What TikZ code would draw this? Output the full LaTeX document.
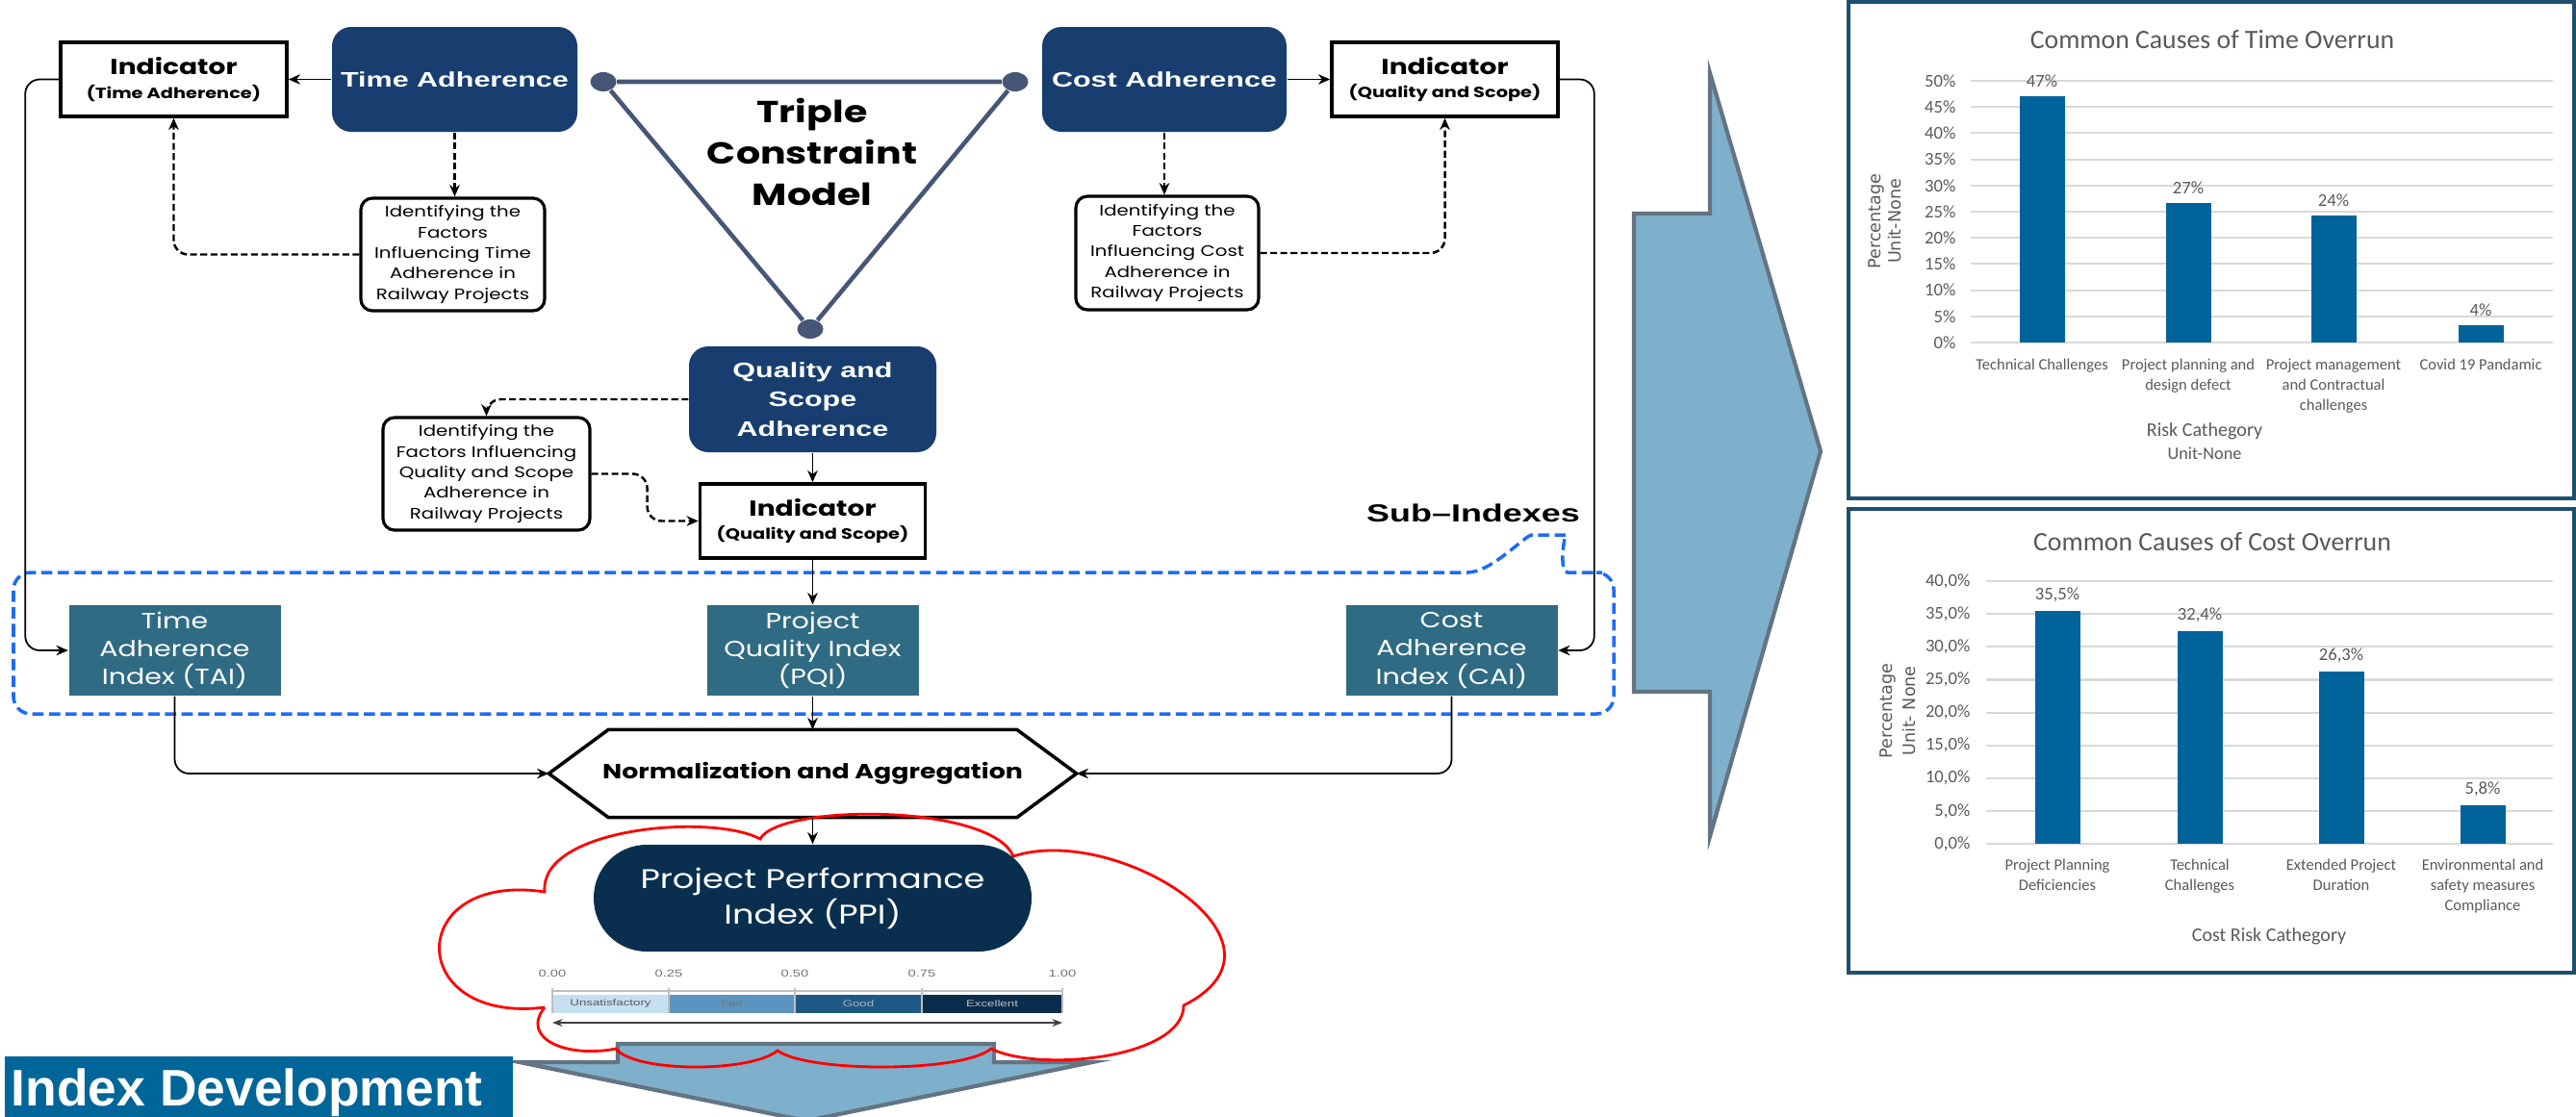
\documentclass[tikz,border=0pt]{standalone}
\usepackage{fontspec}
\setmainfont{Poppins}[FakeStretch=1.25]
\newfontfamily\arfont{Liberation Sans}[FakeStretch=1.4]
\newfontfamily\plainarial{Liberation Sans}
\newfontfamily\chartfont{Carlito}
\newfontfamily\axisfont{DejaVu Sans}
\usetikzlibrary{arrows.meta,shapes.geometric}
\newcommand{\fsz}[2]{\fontsize{#1}{#2}\selectfont}

\begin{document}
\begin{tikzpicture}[
  darkbox/.style={fill=topblue, rounded corners=0.2cm, text=white, align=center, inner sep=0pt, font=\arfont\bfseries\fsz{6.2}{8.6}},
  indbox/.style={draw, line width=1pt, fill=white, align=center, inner sep=0pt, minimum width=2.35cm, minimum height=0.77cm, font=\bfseries\fsz{4.4}{7}},
  factbox/.style={draw, line width=0.9pt, rounded corners=0.12cm, fill=white, align=center, inner sep=0pt, font=\fsz{4.5}{6.1}},
  subbox/.style={fill=subteal, text=white, align=center, inner sep=0pt, minimum width=2.2cm, minimum height=0.94cm, font=\fsz{6.5}{8.3}},
  flow/.style={-{Stealth[length=3.5pt,width=3pt]}, line width=0.5pt, rounded corners=0.15cm},
  dflow/.style={flow, line width=0.7pt, dash pattern=on 2pt off 1pt},
  vtx/.style={ellipse, fill=tri, inner sep=0pt, minimum width=0.27cm, minimum height=0.2cm},
  subline/.style={subdash, line width=1pt, dash pattern=on 3.3pt off 1.6pt, rounded corners=0.18cm},
  blockarrow/.style={fill=arrowfill, draw=arrowline, line width=1.2pt, line join=miter},
  cloudline/.style={draw=red, line width=0.8pt},
  gridline/.style={gridgray, line width=0.6pt},
  ticklab/.style={anchor=east, inner sep=0pt, text=textgray, font=\chartfont\fsz{5.3}{6}},
  datalab/.style={anchor=south, inner sep=1pt, text=textgray, font=\chartfont\fsz{5.3}{6}},
  catlab/.style={anchor=north, inner sep=0pt, align=center, text=textgray, font=\chartfont\fsz{4.7}{6}},
  axlab/.style={rotate=90, inner sep=0pt, text=textgray, font=\axisfont\fsz{5}{6}},
  barfill/.style={fill=barblue},
  panel/.style={draw=panelblue, line width=1pt},
  scalelab/.style={inner sep=0pt, text=black!55, font=\arfont\fsz{3}{4}},
  seglab/.style={inner sep=0pt, font=\arfont\fsz{2.7}{3}}
]
\definecolor{topblue}{RGB}{24,62,111}
\definecolor{subteal}{RGB}{47,107,130}
\definecolor{ppiblue}{RGB}{10,47,78}
\definecolor{tri}{RGB}{70,86,118}
\definecolor{subdash}{RGB}{30,108,245}
\definecolor{arrowfill}{RGB}{127,176,203}
\definecolor{arrowline}{RGB}{100,116,130}
\definecolor{idblue}{RGB}{0,102,153}
\definecolor{barblue}{RGB}{0,99,153}
\definecolor{panelblue}{RGB}{31,78,110}
\definecolor{textgray}{RGB}{89,89,89}
\definecolor{gridgray}{RGB}{217,217,217}
\definecolor{segA}{RGB}{198,223,241}
\definecolor{segB}{RGB}{91,149,191}
\definecolor{segC}{RGB}{30,89,133}
\definecolor{segD}{RGB}{11,45,76}

\useasboundingbox (0,0) rectangle (26.77,-11.60);

% triple constraint
\node[vtx] (vL) at (6.27,-0.85) {};
\node[vtx] (vR) at (10.55,-0.85) {};
\node[vtx] (vB) at (8.42,-3.42) {};
\draw[tri, line width=1.3pt] (vL) -- (vR) -- (vB) -- (vL);
\node[font=\bfseries\fsz{9}{12.3}, align=center] (triple) at (8.44,-1.58) {Triple\\Constraint\\Model};

\node[darkbox, minimum width=2.55cm, minimum height=1.09cm] (timeAdh) at (4.725,-0.825) {Time Adherence};
\node[darkbox, minimum width=2.54cm, minimum height=1.09cm] (costAdh) at (12.10,-0.825) {Cost Adherence};
\node[darkbox, minimum width=2.57cm, minimum height=1.10cm] (qsAdh) at (8.445,-4.15) {Quality and\\Scope\\Adherence};

\node[indbox] (indTime) at (1.805,-0.825) {{\fsz{6.4}{7}Indicator}\\(Time Adherence)};
\node[indbox] (indCost) at (15.015,-0.825) {{\fsz{6.4}{7}Indicator}\\(Quality and Scope)};
\node[indbox, minimum width=2.34cm] (indQS) at (8.445,-5.415) {{\fsz{6.4}{7}Indicator}\\(Quality and Scope)};

\node[factbox, minimum width=1.91cm, minimum height=1.17cm] (factTime) at (4.705,-2.645) {Identifying the\\Factors\\Influencing Time\\Adherence in\\Railway Projects};
\node[factbox, minimum width=1.90cm, minimum height=1.18cm] (factCost) at (12.13,-2.63) {Identifying the\\Factors\\Influencing Cost\\Adherence in\\Railway Projects};
\node[factbox, minimum width=2.15cm, minimum height=1.17cm] (factQS) at (5.055,-4.925) {Identifying the\\Factors Influencing\\Quality and Scope\\Adherence in\\Railway Projects};

\draw[flow] (timeAdh.west) -- (indTime.east);
\draw[dflow] (timeAdh.south) -- (timeAdh.south |- factTime.north);
\draw[dflow] (factTime.west) -| (indTime.south);
\draw[flow] (costAdh.east) -- (indCost.west);
\draw[dflow] (costAdh.south) -- (costAdh.south |- factCost.north);
\draw[dflow] (factCost.east) -| (indCost.south);
\draw[flow] (qsAdh.south) -- (indQS.north);
\draw[dflow] (qsAdh.west) -| (factQS.north);
\draw[dflow] (factQS.east) -- ++(0.58,0) |- (indQS.west);

% sub-indexes
\draw[subline] (0.14,-6.6) |- (15.07,-5.95) .. controls (15.5,-5.95) and (15.85,-5.56) .. (16.10,-5.56) .. controls (16.25,-5.56) and (16.2,-5.95) .. (16.47,-5.95) -| (16.77,-7.42) -| (0.14,-6.6);
\node[font=\arfont\bfseries\fsz{7.3}{9}] (subLab) at (15.31,-5.33) {Sub–Indexes};

\node[subbox] (tai) at (1.815,-6.76) {Time\\Adherence\\Index (TAI)};
\node[subbox] (pqi) at (8.445,-6.76) {Project\\Quality Index\\(PQI)};
\node[subbox] (cai) at (15.085,-6.76) {Cost\\Adherence\\Index (CAI)};

\draw[flow] (indTime.west) -- ++(-0.35,0) |- (tai.west);
\draw[flow] (indCost.east) -- ++(0.36,0) |- (cai.east);
\draw[flow] (indQS.south) -- (pqi.north);

% aggregation
\node[minimum width=5.47cm, minimum height=0.9cm, inner sep=0pt, font=\bfseries\fsz{6.1}{7}] (norm) at (8.445,-8.04) {Normalization and Aggregation};
\draw[line width=1pt] (norm.west) -- ([xshift=0.62cm]norm.north west) -- ([xshift=-0.62cm]norm.north east) -- (norm.east) -- ([xshift=-0.62cm]norm.south east) -- ([xshift=0.62cm]norm.south west) -- cycle;
\draw[flow] (tai.south) |- (norm.west);
\draw[flow] (cai.south) |- (norm.east);
\draw[flow] (pqi.south) -- (norm.north);

% output arrows
\filldraw[blockarrow] (5.40,-11.04) -- (6.42,-11.04) -- (6.42,-10.85) -- (10.33,-10.85) -- (10.33,-11.04) -- (11.35,-11.04) -- (8.38,-11.65) -- cycle;
\filldraw[blockarrow] (16.98,-2.22) -- (17.77,-2.22) -- (17.77,-0.76) -- (18.92,-4.69) -- (17.77,-8.69) -- (17.77,-7.19) -- (16.98,-7.19) -- cycle;

% cloud round the PPI
\draw[cloudline] (5.66,-10.47) .. controls (4.2,-10.65) and (4.2,-9.05) .. (5.66,-9.27)
  .. controls (5.6,-8.6) and (7.4,-8.45) .. (7.90,-8.72)
  .. controls (8.1,-8.35) and (10.3,-8.35) .. (10.53,-8.90)
  .. controls (11.6,-8.55) and (13.6,-9.8) .. (12.30,-10.45)
  .. controls (12.3,-11.0) and (10.8,-11.15) .. (10.30,-10.90)
  .. controls (10.0,-11.15) and (8.4,-11.15) .. (8.08,-10.92)
  .. controls (7.8,-11.15) and (6.6,-11.15) .. (6.40,-10.90)
  .. controls (5.9,-11.0) and (5.4,-10.8) .. (5.66,-10.47);
\node[fill=ppiblue, text=white, rounded corners=0.55cm, minimum width=4.55cm, minimum height=1.11cm, align=center, inner sep=0pt, font=\fsz{8}{10.5}] (ppi) at (8.445,-9.335) {Project Performance\\Index (PPI)};
\draw[flow] (norm.south) -- (ppi.north);

% PPI scale
\foreach \a/\b/\lab/\col/\tc in {5.74/6.95/Unsatisfactory/segA/black!65,6.95/8.26/Fair/segB/black!55,8.26/9.58/Good/segC/white!70!black,9.58/11.04/Excellent/segD/white!75!black}{
  \fill[\col] (\a,-10.34) rectangle (\b,-10.53);
  \node[seglab, text=\tc] (seg\lab) at ({(\a+\b)/2},-10.435) {\lab};
}
\draw[black!25, line width=0.4pt] (5.74,-10.30) -- (11.04,-10.30);
\foreach \x/\v [count=\i] in {5.74/0.00,6.95/0.25,8.26/0.50,9.58/0.75,11.04/1.00}{
  \draw[black!25, line width=0.4pt] (\x,-10.27) -- (\x,-10.53);
  \node[scalelab] (tick\i) at (\x,-10.12) {\v};
}
\coordinate (scaleL) at (5.74,-10.63);
\coordinate (scaleR) at (11.04,-10.63);
\draw[{Stealth[length=3pt]}-{Stealth[length=3pt]}, black!75, line width=0.6pt] (scaleL) -- (scaleR);

\fill[idblue] (0.05,-10.98) rectangle (5.33,-11.70);
\node[anchor=base west, inner sep=0pt, text=white, font=\plainarial\bfseries\fsz{15.2}{16}] (idxDev) at (0.11,-11.49) {Index Development};

% time overrun chart
\draw[panel] (19.21,-0.02) rectangle (26.75,-5.18);
\node[text=textgray, font=\chartfont\fsz{7.9}{9}] (timeTitle) at (22.99,-0.41) {Common Causes of Time Overrun};
\foreach \v in {0,5,...,50}{
  \draw[gridline] (20.48,{-3.56+0.0544*\v}) -- (26.53,{-3.56+0.0544*\v});
  \node[ticklab] (tyT\v) at (20.33,{-3.56+0.0544*\v}) {\v\%};
}
\foreach \x/\h/\lab [count=\i] in {21.22/47/47,22.74/26.7/27,24.25/24.2/24,25.78/3.4/4}{
  \fill[barfill] ({\x-0.235},-3.56) rectangle ({\x+0.235},{-3.56+0.0544*\h});
  \node[datalab] (dT\i) at (\x,{-3.51+0.0544*\h}) {\lab\%};
}
\foreach \x/\lab [count=\i] in {21.22/{Technical Challenges},22.74/{Project planning and\\design defect},24.25/{Project management\\and Contractual\\challenges},25.78/{Covid 19 Pandamic}}{
  \node[catlab] (cT\i) at (\x,-3.72) {\lab};
}
\node[text=textgray, font=\chartfont\fsz{5.7}{7}] (xT) at (22.91,-4.48) {Risk Cathegory};
\node[text=textgray, font=\chartfont\fsz{5.2}{7}] (xTu) at (22.91,-4.71) {Unit-None};
\node[axlab] (yT1) at (19.50,-2.30) {Percentage};
\node[axlab] (yT2) at (19.69,-2.30) {Unit-None};

% cost overrun chart
\draw[panel] (19.21,-5.29) rectangle (26.75,-10.11);
\node[text=textgray, font=\chartfont\fsz{7.9}{9}] (costTitle) at (22.99,-5.63) {Common Causes of Cost Overrun};
\foreach \v in {0,5,...,40}{
  \draw[gridline] (20.64,{-8.77+0.0682*\v}) -- (26.53,{-8.77+0.0682*\v});
  \node[ticklab] (tyC\v) at (20.48,{-8.77+0.0682*\v}) {\v,0\%};
}
\foreach \x/\h/\lab [count=\i] in {21.38/35.5/{35,5},22.86/32.4/{32,4},24.33/26.3/{26,3},25.80/5.8/{5,8}}{
  \fill[barfill] ({\x-0.235},-8.77) rectangle ({\x+0.235},{-8.77+0.0682*\h});
  \node[datalab] (dC\i) at (\x,{-8.72+0.0682*\h}) {\lab\%};
}
\foreach \x/\lab [count=\i] in {21.38/{Project Planning\\Deficiencies},22.86/{Technical\\Challenges},24.33/{Extended Project\\Duration},25.80/{Environmental and\\safety measures\\Compliance}}{
  \node[catlab] (cC\i) at (\x,-8.92) {\lab};
}
\node[text=textgray, font=\chartfont\fsz{5.7}{7}] (xC) at (23.58,-9.73) {Cost Risk Cathegory};
\node[axlab] (yC1) at (19.62,-7.39) {Percentage};
\node[axlab] (yC2) at (19.84,-7.39) {Unit- None};
\end{tikzpicture}
\end{document}
